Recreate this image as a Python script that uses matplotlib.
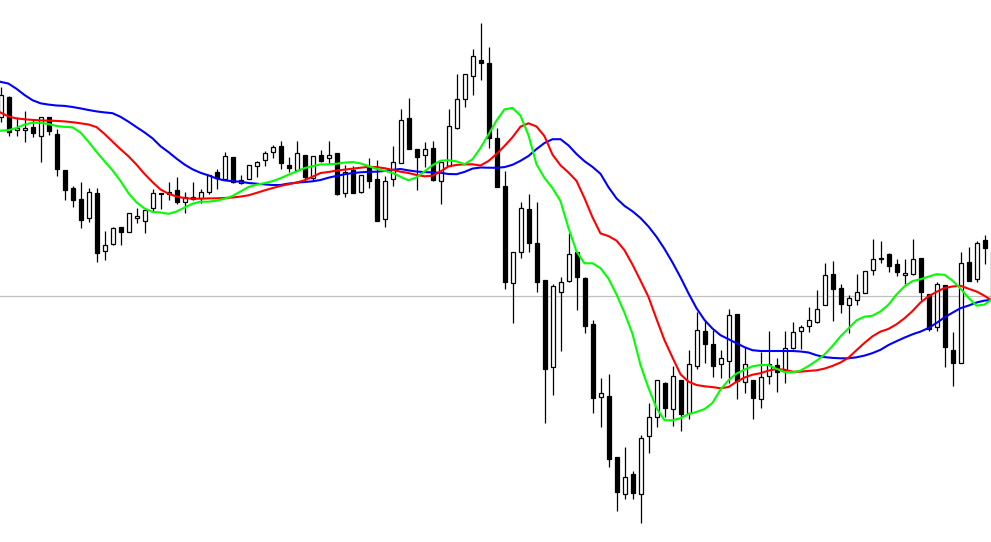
import matplotlib
matplotlib.use('Agg')
import matplotlib.pyplot as plt
import numpy as np

# values, in screen rows (top = 0), so the y axis is inverted below
opens = [116.7, 97.3, 130.3, 130.3, 127, 136.3, 117.3, 134, 170, 188,
         199.3, 218.3, 193.3, 250.7, 244.3, 227.3, 232.3, 218.3, 220.7, 208.3,
         193.3, 194.3, 190, 202.3, 197.3, 197.7, 191.7, 172, 178.7, 157.3,
         183.3, 179.3, 166.3, 160.3, 152.3, 146.3, 165.3, 170.3, 155.3, 177.7,
         155.3, 157.5, 153.3, 192.7, 170, 191.7, 166, 179.3, 218.7, 179.3,
         163.3, 118.3, 149.3, 155.3, 148.3, 181.3, 165.7, 127.7, 98.7, 76.3,
         60.3, 63.3, 138.3, 186.3, 283.3, 251.7, 209.3, 243.3, 280, 366.7,
         292.3, 280.7, 252.3, 278.3, 324.3, 397.3, 396, 457.3, 494.3, 474,
         494.3, 436, 417.3, 383.3, 409.3, 380, 413.3, 365.7, 331, 344,
         364.3, 360.7, 314.3, 381.7, 380, 399.3, 376.3, 365.3, 370, 347.7,
         331, 326, 321.7, 305, 274, 288.3, 305, 300, 293.3, 270,
         258.3, 254, 264, 275, 274, 258.3, 294, 327.3, 285, 350,
         363.3, 262.3, 279.3, 240, 252]
closes = [95, 131.7, 128.3, 128.3, 132.7, 116.7, 130.7, 169.3, 189.7, 200.3,
          219.7, 192.3, 253.3, 245.3, 228.3, 231.7, 213.3, 216, 210.3, 193.3,
          194.3, 191.7, 201.7, 196.7, 199, 192.3, 175.3, 178, 156.3, 182.3,
          180.3, 165.3, 162.3, 153.3, 147.3, 163.3, 168.3, 153.3, 176.7, 156.3,
          160.5, 155.3, 193.7, 171.7, 192.7, 175.3, 180.7, 220.7, 181.3, 162.3,
          120, 148.7, 156.7, 149.3, 179.7, 161.7, 126.3, 99.3, 74.3, 56.3,
          62.7, 137.5, 187.3, 282.3, 252.3, 208.3, 242.7, 281.7, 368.7, 286,
          282.3, 254, 276.7, 325.7, 398.3, 393.3, 459.3, 491.7, 477.3, 493.3,
          438.3, 416.7, 380, 408.3, 376, 414.3, 364.3, 330, 343.7, 365.7,
          358.3, 315.3, 381, 364.3, 397.7, 377.3, 364.3, 371.7, 348.3, 332.3,
          327.3, 320, 309.3, 275, 289.3, 304, 298.3, 292, 271, 259.3,
          259.3, 265.7, 271.7, 273.3, 259.3, 291.7, 329.3, 284.3, 346.7, 362.7,
          263.3, 280.7, 243.3, 247.7, 300]
highs = [87.3, 96, 116.7, 111, 120, 116.7, 117.3, 129, 170, 186,
         182, 188, 188, 231.3, 226.7, 227.3, 213.3, 208, 210.3, 189.3,
         193.3, 182, 177.3, 192.3, 181.7, 189.3, 175.3, 169, 152, 157.3,
         175.3, 165.3, 160.7, 151, 145.3, 140.7, 157, 141.3, 155.3, 156.3,
         150, 141.3, 153.3, 165.3, 165.7, 175.3, 158, 160.3, 176, 146,
         109, 98, 149.3, 142, 141, 161.7, 109, 74, 74.3, 49,
         23, 46.7, 128.3, 171, 252.3, 202, 194.3, 202.3, 280, 284,
         276.7, 233.3, 252.3, 276.7, 320, 378.3, 374, 457.3, 446.7, 471,
         435.3, 403.3, 380, 382.3, 365.7, 380, 350, 312.3, 320, 330,
         350, 309.3, 314.3, 346.7, 380, 351.7, 331, 358.3, 331, 321.7,
         325, 307.3, 290, 263.3, 261, 284, 295, 274, 271, 239,
         241, 252.7, 259.3, 259.3, 239, 258.3, 294, 281.7, 285, 331.7,
         252.3, 246.7, 240.7, 235, 249]
lows = [121.7, 136, 136, 141.7, 137.3, 161.7, 135, 175.7, 199.7, 207.3,
        227.7, 221.7, 261.7, 260, 245.3, 245.3, 232.3, 223.3, 232.7, 212.3,
        208.5, 199.7, 204.3, 212.7, 200, 202.7, 194, 188.7, 178.7, 183.3,
        184, 179.3, 177.3, 166.3, 157.7, 169.3, 171.7, 171.3, 181.7, 180.3,
        161.7, 164, 194.7, 196.7, 192.7, 192.7, 187.7, 220.7, 226.7, 185.7,
        163.3, 148.7, 189.7, 166.7, 180.7, 203.7, 165.7, 128.7, 106.7, 94.7,
        79.7, 147.7, 187.3, 289.3, 323.3, 258.3, 251.7, 291.7, 423.3, 395.3,
        350.7, 282.3, 310, 333.3, 413.3, 426.7, 467.3, 510.7, 498.7, 498.7,
        522.7, 453.3, 426.7, 416.7, 425.7, 430.7, 419.3, 369, 362.7, 376.7,
        377.7, 383, 399.3, 392.7, 419.3, 407.7, 384, 392.3, 382.7, 349.3,
        349.3, 332.3, 323.3, 305, 320.7, 313.3, 333.3, 305, 293.3, 275,
        262.7, 271.7, 276, 284, 275, 300, 331, 331, 366.7, 385.7,
        363.3, 280.7, 281.7, 264.3, 373]

# moving averages, one reading per bar
ma_blue = [81.8, 83.6, 88.8, 95, 100.2, 103.3, 104.6, 105.5, 105.9, 107,
           108.4, 110, 111.4, 112.4, 113.2, 116.8, 121.7, 127.1, 132.4, 138.3,
           146.2, 152.1, 158.6, 164.5, 169.3, 172.8, 175.4, 178.5, 180.4, 181.2,
           181.7, 183, 183.7, 184.4, 185, 185, 183.6, 182.7, 182, 181.3,
           180, 177.7, 175.9, 174.3, 173.1, 172.3, 171.8, 171.7, 171, 169.8,
           169, 170.4, 171.5, 172.1, 172.4, 172.8, 174, 174.2, 171.9, 168.6,
           167.5, 167.7, 167.8, 167.1, 164.8, 160.8, 156, 149.1, 143, 139.2,
           139.2, 145.4, 154, 161.2, 166.9, 173.8, 187.2, 198.4, 205.9, 211.3,
           218, 226.5, 236.8, 248.9, 262.5, 277.3, 293.3, 308.2, 320, 328.6,
           335.2, 339.2, 343.2, 347.2, 350.2, 351, 351, 351, 351, 351,
           351.5, 352.5, 355.2, 357.1, 357.9, 358.3, 358.3, 357.3, 355.6, 353.1,
           349.8, 345, 341.2, 337.6, 334.3, 331.6, 328, 323, 317.4, 312.7,
           308.2, 305.6, 302.5, 300.6, 299.8]
ma_red = [112.5, 116.5, 118.4, 119.3, 119.9, 120.4, 120.7, 120.9, 121.4, 122.2,
          123.3, 124.5, 127.1, 133.9, 141.6, 149.2, 156.3, 164.6, 173.9, 182.1,
          189.5, 193.7, 196.5, 198.1, 198.7, 198.7, 198.4, 198.3, 198, 197.5,
          196.6, 195.3, 192.9, 190.4, 188.1, 185.9, 184.3, 182.5, 180.3, 176.7,
          173, 172, 170.6, 169.6, 168.7, 167.7, 166.9, 167.1, 168.2, 169.9,
          171.7, 173, 175, 176.3, 175.7, 171.5, 166.4, 164.9, 164.4, 164.3,
          165.5, 161, 154, 146, 137.2, 126.6, 123.3, 126.5, 136.2, 154.6,
          165.3, 172.5, 180.9, 198.2, 217.3, 233.4, 236.1, 240.6, 250.2, 264.6,
          280.6, 297, 319, 340.2, 357.5, 374.3, 381.7, 385, 386.3, 387.1,
          388.3, 387, 381.8, 377.5, 374.7, 373.2, 370.6, 369, 369.7, 371.7,
          371.7, 370.9, 370.3, 368.6, 365.9, 362.5, 357.7, 350.2, 342.9, 336.3,
          331.6, 328.9, 324.3, 318.3, 311.1, 302.5, 296.3, 291.9, 288, 286.5,
          285.8, 288.7, 291.5, 295.8, 301]
ma_green = [130.7, 130.1, 128, 124.5, 122.7, 122.8, 124, 126, 126.9, 127.3,
            132.5, 141.7, 151.8, 161.2, 170.3, 181, 193.2, 202.3, 208.5, 211.9,
            212.5, 213.8, 211.5, 207.5, 203.7, 201.7, 201.7, 200.6, 198.8, 196,
            191.5, 187, 184.7, 183.1, 181.2, 178.2, 174.7, 171.5, 168.1, 166.2,
            164.4, 164.3, 163.7, 162.6, 162, 163.4, 166.1, 168.9, 170.7, 172.9,
            176.8, 180.3, 177.4, 171.4, 165.2, 160.7, 160.2, 161.4, 164.2, 159.3,
            148, 134.5, 120.6, 109.4, 107.9, 115.6, 135.3, 164.2, 178, 188,
            201.1, 228, 251.4, 263.3, 263.3, 268.2, 278.6, 294.4, 312.7, 333.9,
            365, 388, 408, 420.2, 420.3, 418.2, 414.2, 411.9, 409.1, 402.9,
            389.6, 380.2, 373.6, 369.6, 366.3, 365, 365, 368.8, 372.1, 372.3,
            370.6, 366, 360.8, 354.5, 346, 336.4, 328.4, 320.4, 316.7, 315.7,
            311.4, 304.7, 294.5, 286.4, 281.1, 279.2, 276.6, 274.2, 274.8, 280.6,
            288.6, 297.8, 305.7, 304.5, 299]
price_line = 296

o = np.array(opens)
c = np.array(closes)
h = np.array(highs)
l = np.array(lows)
idx = np.arange(len(o))
up = c < o  # rows grow downward, so a smaller close row means the price rose

fig = plt.figure(figsize=(9.91, 5.42), dpi=100)
ax = fig.add_axes([0, 0, 1, 1])
ax.set_axis_off()

ax.axhline(price_line, color='#c0c0c0', linewidth=0.9, zorder=1)

ax.vlines(idx, h, l, color='black', linewidth=0.9, zorder=2)
bottom = np.minimum(o, c)
height = np.maximum(np.abs(o - c), 0.01)
ax.bar(idx[up], height[up], bottom=bottom[up], width=0.5,
       facecolor='white', edgecolor='black', linewidth=0.9, zorder=3)
ax.bar(idx[~up], height[~up], bottom=bottom[~up], width=0.5,
       facecolor='black', edgecolor='black', linewidth=0.9, zorder=3)

ax.plot(idx, ma_blue, color='#0000ff', linewidth=1.5, zorder=4)
ax.plot(idx, ma_red, color='#ff0000', linewidth=1.5, zorder=4)
ax.plot(idx, ma_green, color='#00ff00', linewidth=1.5, zorder=4)

ax.set_xlim(-0.0625, 123.8125)
ax.set_ylim(542, 0)

fig.savefig('out.png', dpi=100, facecolor='white')
